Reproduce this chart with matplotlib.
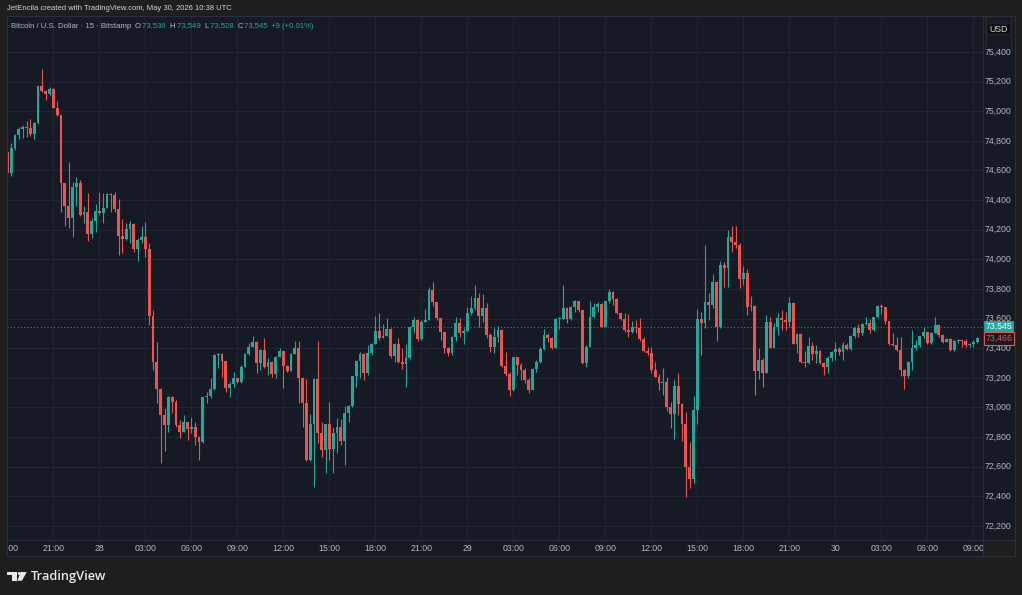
import numpy as np
import matplotlib.pyplot as plt
from matplotlib.patches import Rectangle, FancyBboxPatch, Polygon, Circle
from matplotlib.transforms import blended_transform_factory

# BTC/USD 15 min candles, Bitstamp, 27 May 18:00 -> 30 May 09:15
first_open = 74727
closes = [
    74585, 74754, 74840, 74880, 74895, 74888, 74845, 74919, 75173, 75139,
    75114, 75152, 75024, 74973, 74513, 74363, 74282, 74491, 74513, 74300,
    74320, 74173, 74259, 74327, 74315, 74349, 74439, 74435, 74340, 74160,
    74136, 74205, 74236, 74070, 74131, 74150, 74070, 73620, 73305, 73123,
    72949, 72882, 73073, 73039, 72882, 72837, 72900, 72853, 72870, 72803,
    72769, 73069, 73080, 73123, 73354, 73363, 73314, 73130, 73159, 73197,
    73175, 73276, 73361, 73411, 73444, 73298, 73388, 73276, 73310, 73226,
    73343, 73381, 73280, 73249, 73361, 73400, 73201, 73033, 72646, 72887,
    73190, 72826, 72713, 72889, 72718, 72826, 72866, 72776, 72961, 73012,
    73213, 73316, 73361, 73231, 73366, 73429, 73516, 73467, 73480, 73532,
    73348, 73429, 73309, 73294, 73336, 73546, 73591, 73462, 73580, 73591,
    73793, 73714, 73602, 73508, 73400, 73366, 73478, 73573, 73501, 73519,
    73640, 73670, 73742, 73618, 73674, 73489, 73411, 73478, 73523, 73282,
    73224, 73118, 73339, 73287, 73253, 73186, 73118, 73260, 73309, 73395,
    73489, 73467, 73404, 73596, 73600, 73674, 73600, 73681, 73717, 73658,
    73298, 73411, 73613, 73677, 73697, 73546, 73717, 73782, 73730, 73636,
    73596, 73524, 73510, 73541, 73536, 73460, 73384, 73366, 73253, 73204,
    73163, 73170, 73006, 72954, 73143, 73022, 72889, 72596, 72517, 72983,
    73596, 73573, 73712, 73692, 73849, 73541, 73962, 73940, 74150, 74119,
    74097, 73868, 73911, 73675, 73686, 73249, 73321, 73231, 73575, 73404,
    73546, 73602, 73590, 73580, 73708, 73429, 73496, 73305, 73298, 73415,
    73359, 73381, 73298, 73276, 73332, 73372, 73395, 73372, 73422, 73395,
    73483, 73539, 73501, 73562, 73573, 73523, 73609, 73685, 73680, 73584,
    73429, 73422, 73388, 73253, 73213, 73309, 73400, 73422, 73485, 73507,
    73434, 73505, 73557, 73489, 73444, 73460, 73388, 73449, 73458, 73449,
    73422, 73427, 73444, 73466,
]
highs = [
    74795, 74784, 74846, 74896, 74907, 74934, 74945, 74930, 75177, 75285,
    75143, 75161, 75155, 75069, 74975, 74518, 74655, 74520, 74554, 74536,
    74363, 74446, 74277, 74374, 74457, 74446, 74446, 74450, 74457, 74405,
    74273, 74243, 74259, 74243, 74142, 74227, 74250, 74108, 73658, 73444,
    73130, 72994, 73078, 73078, 73050, 72915, 72949, 72904, 72938, 72904,
    72810, 73073, 73107, 73197, 73361, 73365, 73370, 73314, 73174, 73242,
    73208, 73287, 73365, 73433, 73482, 73449, 73392, 73467, 73332, 73314,
    73347, 73404, 73383, 73287, 73365, 73451, 73449, 73208, 73190, 72956,
    73197, 73449, 72904, 72888, 73035, 72870, 72927, 72920, 73010, 73017,
    73213, 73320, 73377, 73370, 73422, 73433, 73617, 73640, 73563, 73606,
    73539, 73433, 73467, 73399, 73428, 73550, 73613, 73595, 73590, 73662,
    73811, 73845, 73714, 73606, 73512, 73406, 73482, 73613, 73602, 73534,
    73680, 73752, 73827, 73770, 73764, 73707, 73500, 73534, 73550, 73527,
    73377, 73242, 73338, 73338, 73298, 73264, 73197, 73264, 73320, 73410,
    73527, 73500, 73478, 73602, 73613, 73827, 73680, 73685, 73725, 73719,
    73653, 73422, 73719, 73703, 73714, 73707, 73719, 73797, 73786, 73737,
    73647, 73635, 73631, 73586, 73590, 73602, 73478, 73411, 73406, 73310,
    73226, 73265, 73208, 73040, 73186, 73231, 73033, 72972, 72770, 73078,
    73663, 73647, 74097, 73775, 73901, 73854, 73991, 73985, 74198, 74225,
    74225, 74108, 73955, 73935, 73753, 73690, 73400, 73332, 73625, 73609,
    73568, 73640, 73658, 73647, 73748, 73715, 73501, 73505, 73381, 73478,
    73444, 73422, 73388, 73309, 73347, 73383, 73444, 73406, 73444, 73433,
    73489, 73545, 73563, 73568, 73608, 73595, 73613, 73692, 73698, 73669,
    73572, 73500, 73473, 73478, 73257, 73316, 73523, 73455, 73483, 73541,
    73512, 73512, 73613, 73563, 73496, 73467, 73467, 73455, 73462, 73460,
    73460, 73433, 73455, 73473,
]
lows = [
    74525, 74563, 74738, 74810, 74817, 74828, 74833, 74810, 74914, 75130,
    75076, 75110, 75020, 74970, 74322, 74228, 74210, 74153, 74363, 74295,
    74243, 74126, 74142, 74187, 74300, 74243, 74345, 74322, 74322, 74030,
    74041, 74131, 74108, 74052, 73991, 74108, 74018, 73560, 73253, 73030,
    72623, 72706, 72837, 72960, 72870, 72792, 72848, 72780, 72825, 72747,
    72645, 72758, 73028, 73062, 73118, 73264, 73208, 73107, 73073, 73140,
    73163, 73167, 73271, 73354, 73406, 73230, 73253, 73264, 73219, 73208,
    73197, 73339, 73129, 73242, 73253, 73361, 73028, 72870, 72639, 72641,
    72465, 72758, 72668, 72555, 72645, 72555, 72695, 72747, 72612, 72904,
    73005, 73140, 73197, 73185, 73219, 73354, 73428, 73455, 73467, 73482,
    73332, 73309, 73303, 73257, 73140, 73325, 73500, 73451, 73455, 73579,
    73590, 73685, 73590, 73455, 73365, 73347, 73354, 73451, 73478, 73428,
    73512, 73624, 73658, 73545, 73579, 73467, 73377, 73365, 73444, 73275,
    73212, 73077, 73113, 73219, 73185, 73163, 73100, 73118, 73242, 73302,
    73388, 73444, 73392, 73399, 73527, 73595, 73568, 73590, 73647, 73647,
    73291, 73275, 73444, 73602, 73647, 73541, 73541, 73703, 73692, 73631,
    73590, 73512, 73478, 73500, 73505, 73451, 73377, 73355, 73235, 73204,
    73118, 73085, 72979, 72860, 72785, 72950, 72776, 72398, 72455, 72488,
    72887, 73355, 73535, 73591, 73670, 73451, 73535, 73811, 73816, 74052,
    74075, 73805, 73827, 73625, 73654, 73085, 73190, 73140, 73231, 73400,
    73400, 73490, 73523, 73523, 73541, 73429, 73365, 73298, 73271, 73293,
    73320, 73302, 73293, 73219, 73230, 73316, 73320, 73354, 73320, 73388,
    73388, 73467, 73473, 73489, 73557, 73505, 73518, 73602, 73631, 73563,
    73422, 73415, 73383, 73213, 73125, 73197, 73253, 73388, 73410, 73467,
    73428, 73428, 73500, 73478, 73437, 73444, 73383, 73383, 73437, 73410,
    73410, 73406, 73406, 73433,
]

time_labels = ["18:00", "21:00", "28", "03:00", "06:00", "09:00", "12:00", "15:00",
               "18:00", "21:00", "29", "03:00", "06:00", "09:00", "12:00", "15:00",
               "18:00", "21:00", "30", "03:00", "06:00", "09:00"]
price_ticks = list(range(72200, 75401, 200))
last_price = 73545
prev_close = 73466
header_ohlc = [("O", "73,536"), ("H", "73,549"), ("L", "73,528"), ("C", "73,545")]
header_change = "+9 (+0.01%)"

BG = '#1e1e1e'
PANE = '#161a25'
GRID = '#212532'
BORDER = '#2a2e39'
TXT = '#b2b5be'
UP = '#26a69a'
DN = '#ef5350'
FONT = ['Liberation Sans Narrow', 'Liberation Sans', 'DejaVu Sans']

W, H = 1022, 595
fig = plt.figure(figsize=(W / 100, H / 100), dpi=100, facecolor=BG)


def box(l, t, r, b):
    return [l / W, 1 - b / H, (r - l) / W, (b - t) / H]


ax = fig.add_axes(box(7, 16, 983, 540))
axp = fig.add_axes(box(983, 16, 1015, 540))
axt = fig.add_axes(box(7, 540, 983, 556))
for a in (ax, axp, axt):
    a.set_facecolor(PANE)
    a.set_xticks([])
    a.set_yticks([])
    for s in a.spines.values():
        s.set_visible(False)

ylo, yhi = 72105, 75643
xlo, xhi = -0.1, 254.5
ax.set_xlim(xlo, xhi)
ax.set_ylim(ylo, yhi)
axp.set_ylim(ylo, yhi)
axp.set_xlim(0, 1)
axt.set_xlim(xlo, xhi)
axt.set_ylim(0, 1)

# grid
tick_pos = np.arange(0, len(time_labels) * 12, 12)
for p in price_ticks:
    ax.axhline(p, color=GRID, lw=0.8, zorder=0)
for t in tick_pos:
    ax.axvline(t, color=GRID, lw=0.8, zorder=0)

# candles
c = np.array(closes, dtype=float)
o = np.array([first_open] + closes[:-1], dtype=float)
h = np.maximum(np.array(highs, dtype=float), np.maximum(o, c))
l = np.minimum(np.array(lows, dtype=float), np.minimum(o, c))
x = np.arange(len(c))
col = np.where(c >= o, UP, DN)
ax.vlines(x, l, h, colors=col, lw=0.8, zorder=2)
ax.bar(x, np.maximum(np.abs(c - o), 5), bottom=np.minimum(o, c), width=0.74,
       color=col, linewidth=0, zorder=3)

ax.axhline(last_price, color=UP, lw=0.8, ls=(0, (1, 2)), alpha=0.8, zorder=1)

# price scale
tr = blended_transform_factory(axp.transAxes, axp.transData)
for p in price_ticks:
    axp.text(0.48, p, f"{p:,}", transform=tr, ha='center', va='center',
             color=TXT, fontsize=6.3, family=FONT)
axp.add_patch(Rectangle((0.04, last_price - 42), 0.92, 84, transform=tr,
                        facecolor=UP, edgecolor='none', zorder=4))
axp.text(0.5, last_price, f"{last_price:,}", transform=tr, ha='center', va='center',
         color='white', fontsize=6.3, family=FONT, zorder=5)
axp.add_patch(Rectangle((0.04, prev_close - 42), 0.92, 84, transform=tr,
                        facecolor=PANE, edgecolor=DN, lw=0.8, zorder=4))
axp.text(0.5, prev_close, f"{prev_close:,}", transform=tr, ha='center', va='center',
         color=DN, fontsize=6.3, family=FONT, zorder=5)
axp.add_patch(FancyBboxPatch((0.1, 0.965), 0.8, 0.02, transform=axp.transAxes,
                             boxstyle='round,pad=0,rounding_size=0.05',
                             facecolor='#0f0f0f', edgecolor='#2a2a2a', lw=0.6, zorder=4))
axp.text(0.5, 0.975, "USD", transform=axp.transAxes, ha='center', va='center',
         color='#d1d4dc', fontsize=6.3, family=FONT, zorder=5)

# time scale (first label is cut by the pane edge, as in the screenshot)
trt = blended_transform_factory(axt.transData, axt.transAxes)
for t, lab in zip(tick_pos, time_labels):
    axt.text(t, 0.45, lab, transform=trt, ha='center', va='center', color=TXT,
             fontsize=6.3, family=FONT, clip_on=True)

# borders and separators
fig.add_artist(Rectangle((7 / W, 1 - 556 / H), 1008 / W, 540 / H, transform=fig.transFigure,
                         facecolor='none', edgecolor=BORDER, lw=0.8))
fig.add_artist(plt.Line2D([983 / W, 983 / W], [1 - 556 / H, 1 - 16 / H],
                          transform=fig.transFigure, color=BORDER, lw=0.8))
fig.add_artist(plt.Line2D([7 / W, 1015 / W], [1 - 540 / H, 1 - 540 / H],
                          transform=fig.transFigure, color=BORDER, lw=0.8))

# header
fig.text(7 / W, 1 - 9 / H, "JetEncila created with TradingView.com, May 30, 2026 10:38 UTC",
         ha='left', va='center', color='#d1d4dc', fontsize=5.5, family=FONT)

renderer = fig.canvas.get_renderer()
pieces = [("Bitcoin / U.S. Dollar · 15 · Bitstamp ", TXT)]
for k, v in header_ohlc:
    pieces.append((k, TXT))
    pieces.append((v + " ", UP))
pieces.append((header_change, UP))
xpos = 11
for s, colr in pieces:
    t = fig.text(xpos / W, 1 - 26 / H, s, ha='left', va='center', color=colr,
                 fontsize=5.6, family=FONT)
    xpos += t.get_window_extent(renderer).width + 1.5

# TradingView logo (pixel coords from top-left, flipped to display coords)
logo = '#e8e8e8'


def px(pts):
    return [(a, H - b) for a, b in pts]


fig.add_artist(Polygon(px([(7.3, 572), (17.3, 572), (17.3, 580.7), (12, 580.7), (12, 575), (7.3, 575)]),
                       closed=True, transform=None, facecolor=logo, edgecolor='none'))
fig.add_artist(Circle((19.2, H - 573.5), 1.5, transform=None, facecolor=logo, edgecolor='none'))
fig.add_artist(Polygon(px([(20.7, 572), (26.7, 572), (22, 580.7), (17.3, 580.7)]),
                       closed=True, transform=None, facecolor=logo, edgecolor='none'))
fig.text(30.5 / W, 1 - 576.5 / H, "TradingView", ha='left', va='center', color=logo,
         fontsize=9.3, fontweight='semibold', family=['Open Sans', 'DejaVu Sans'])

fig.savefig("out.png", dpi=100, facecolor=BG)
